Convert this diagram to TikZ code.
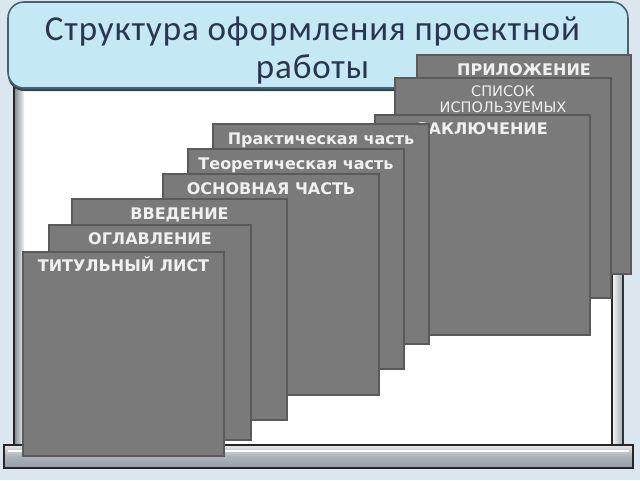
\documentclass[tikz,border=0pt]{standalone}
\usepackage{fontspec}
\setmainfont{DejaVu Sans}
\newfontfamily\titlefont[LetterSpace=2.5]{Carlito}
\usetikzlibrary{calc}
\definecolor{bgblue}{HTML}{DCE6EE}
\definecolor{titlefill}{HTML}{C4E9F5}
\definecolor{titleedge}{HTML}{46666F}
\definecolor{titleink}{HTML}{2B3552}
\definecolor{cardgray}{HTML}{7A7A7A}
\definecolor{cardedge}{HTML}{5A5A5A}
\definecolor{framegray}{HTML}{A9B1B9}
\tikzset{
	card/.style={fill=cardgray, draw=cardedge, line width=1.4pt},
	cardtext/.style={anchor=base, inner sep=0pt, text=white!94!black, font=\bfseries\fontsize{16}{18}\selectfont},
	listtext/.style={anchor=base, inner sep=0pt, text=white!94!black, font=\fontsize{14.5}{16}\selectfont},
	titletext/.style={anchor=base, inner sep=0pt, text=titleink, font=\titlefont\fontsize{35}{36}\selectfont}
}

\begin{document}
\begin{tikzpicture}[x=1pt, y=-1pt]
			%%%%% START %%%%%
			
			\fill[bgblue] (0, 0) rectangle (640, 480);
			\useasboundingbox (0, 0) rectangle (640, 480);
			
			% board
			\fill[white] (24, 86) rectangle (612, 446);
			\fill[black!85] (13, 86) rectangle (15.5, 447);
			\shade[left color=framegray!85!black, right color=white!85!framegray] (15.5, 86) rectangle (24, 447);
			\fill[black!85] (611, 86) rectangle (613, 447);
			\shade[left color=white!80!framegray, right color=framegray] (613, 86) rectangle (622, 447);
			\fill[black!80] (622, 86) rectangle (624, 447);
			
			% tray
			\shade[top color=white!70!framegray, bottom color=framegray!90!black, middle color=framegray] (4, 445) rectangle (633, 468);
			\draw[white, line width=1.5pt] (8, 451) -- (629, 451);
			\draw[black!85, line width=1.2pt] (4, 445) rectangle (633, 468);
			
			% title
			\fill[titleedge!70!black, rounded corners=16] (8, 5) rectangle (628, 91);
			\draw[fill=titlefill, draw=titleedge, line width=1.6pt, rounded corners=16] (8, 2) rectangle (628, 88);
			\node[titletext] (titlea) at (312.5, 40) {Структура оформления проектной};
			\node[titletext] (titleb) at (312.5, 78) {работы};
			
			% cards, back to front
			\draw[card] (417, 55) rectangle (631, 274);
			\node[cardtext] (prilozhenie) at (524, 75) {ПРИЛОЖЕНИЕ};
			
			\draw[card] (395, 78) rectangle (611, 298);
			\node[listtext] (spisok) at (503, 96) {СПИСОК};
			\node[listtext] (ispolz) at (503, 112) {ИСПОЛЬЗУЕМЫХ};
			
			\draw[card] (375, 115) rectangle (590, 335);
			\node[cardtext] (zakl) at (482.5, 134) {ЗАКЛЮЧЕНИЕ};
			
			\draw[card] (213, 124) rectangle (429, 344);
			\node[cardtext] (prakt) at (321, 144) {Практическая часть};
			
			\draw[card] (188, 149) rectangle (404, 369);
			\node[cardtext] (teor) at (296, 169) {Теоретическая часть};
			
			\draw[card] (163, 174) rectangle (379, 395);
			\node[cardtext] (osn) at (271, 194) {ОСНОВНАЯ ЧАСТЬ};
			
			\draw[card] (72, 199) rectangle (287, 420);
			\node[cardtext] (vved) at (179.5, 219) {ВВЕДЕНИЕ};
			
			\draw[card] (49, 225) rectangle (251, 440);
			\node[cardtext] (oglav) at (150, 244) {ОГЛАВЛЕНИЕ};
			
			\draw[card] (23, 252) rectangle (224, 456);
			\node[cardtext] (titul) at (123.5, 271) {ТИТУЛЬНЫЙ ЛИСТ};
			
			%%%%% END %%%%%
\end{tikzpicture}
\end{document}
